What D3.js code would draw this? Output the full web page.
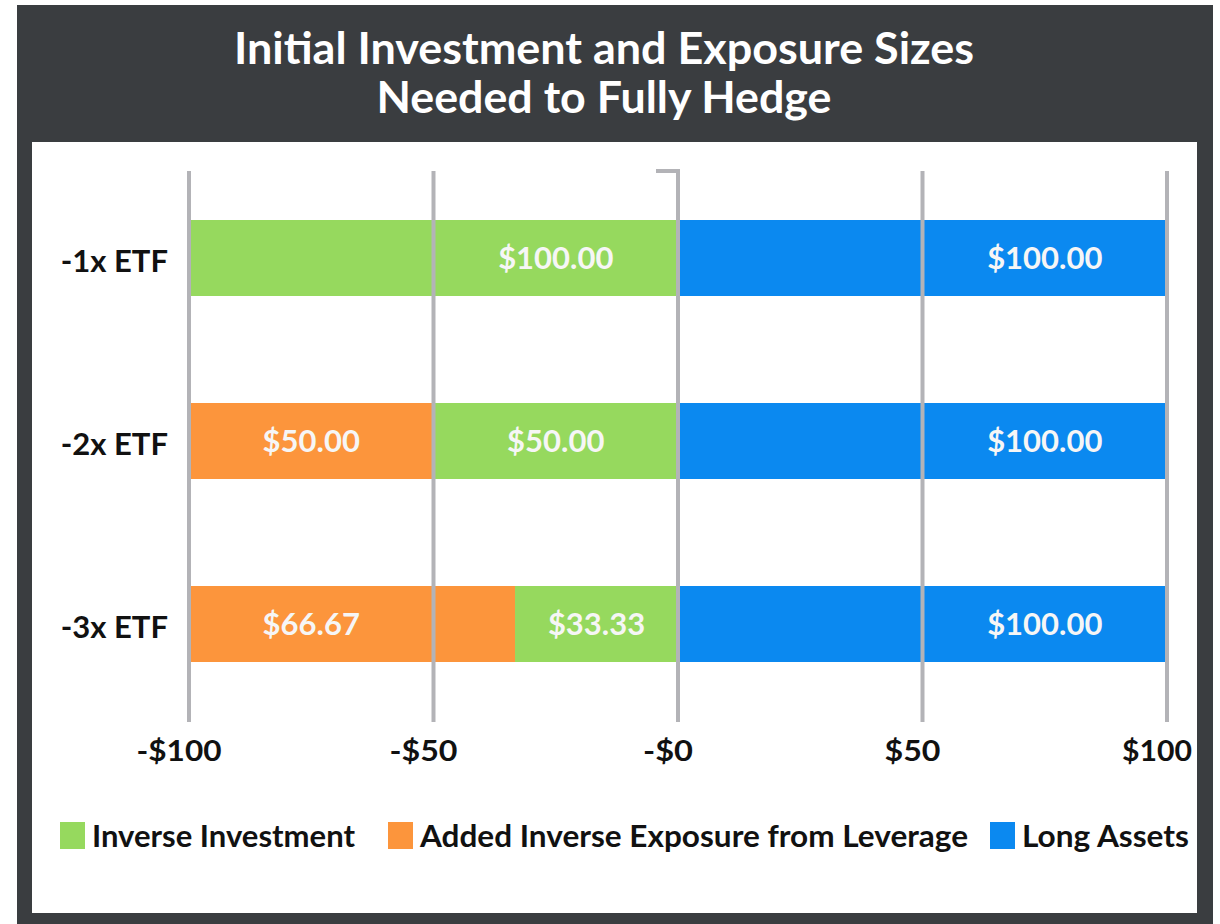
<!DOCTYPE html>
<html>
<head>
<meta charset="utf-8">
<script src="https://cdn.jsdelivr.net/npm/d3@7"></script>
<style>
  html, body { margin: 0; padding: 0; background: #ffffff; }
  svg { display: block; }
  text { font-family: Lato, "Open Sans", sans-serif; font-weight: 700; }
</style>
</head>
<body>
<svg id="chart" width="1220" height="924"></svg>
<script>
// ---------- data ----------
const categories = ["-1x ETF", "-2x ETF", "-3x ETF"];
const inverseInvestment = [100, 50, 33.33];
const addedExposure = [0, 50, 66.67];
const longAssets = [100, 100, 100];
const tickValues = [-100, -50, 0, 50, 100];
const tickLabels = ["-$100", "-$50", "-$0", "$50", "$100"];
const seriesNames = ["Inverse Investment", "Added Inverse Exposure from Leverage", "Long Assets"];
const seriesColors = ["#96d95e", "#fc953c", "#0b89f0"];
const titleLines = ["Initial Investment and Exposure Sizes", "Needed to Fully Hedge"];

// ---------- layout ----------
const svg = d3.select("#chart");
const frame = { x: 17, y: 5, w: 1196, h: 919 };
const panel = { x: 32, y: 142, w: 1165, h: 771 };

svg.append("rect").attr("x", frame.x).attr("y", frame.y).attr("width", frame.w).attr("height", frame.h)
  .attr("fill", "#3a3d40");
svg.append("rect").attr("x", panel.x).attr("y", panel.y).attr("width", panel.w).attr("height", panel.h)
  .attr("fill", "#ffffff");

// title
const titleWidths = [740, 455];
const titleY = [64, 113];
titleLines.forEach((t, i) => {
  svg.append("text")
    .attr("x", 604).attr("y", titleY[i])
    .attr("text-anchor", "middle")
    .attr("fill", "#ffffff")
    .attr("font-size", 43)
    .attr("textLength", titleWidths[i])
    .attr("lengthAdjust", "spacingAndGlyphs")
    .text(t);
});

// scales
const x = d3.scaleLinear().domain([-100, 100]).range([189, 1167]);
const y = d3.scalePoint().domain(categories).range([258, 624]);
const barH = 76;
const gridTop = 171, gridBottom = 722;

// build segments
const segments = [];
categories.forEach((c, i) => {
  const inv = inverseInvestment[i], add = addedExposure[i], lng = longAssets[i];
  if (add > 0) segments.push({ cat: c, s: 1, x0: -(inv + add), x1: -inv, v: add });
  segments.push({ cat: c, s: 0, x0: -inv, x1: 0, v: inv });
  segments.push({ cat: c, s: 2, x0: 0, x1: lng, v: lng });
});

// bars
svg.append("g").selectAll("rect").data(segments).join("rect")
  .attr("x", d => x(d.x0))
  .attr("width", d => x(d.x1) - x(d.x0))
  .attr("y", d => y(d.cat) - barH / 2)
  .attr("height", barH)
  .attr("fill", d => seriesColors[d.s]);

// gridlines (drawn over bars)
const grid = svg.append("g");
grid.selectAll("line").data(tickValues).join("line")
  .attr("x1", d => x(d)).attr("x2", d => x(d))
  .attr("y1", gridTop).attr("y2", gridBottom)
  .attr("stroke", "#b3b3b7").attr("stroke-width", 4);
grid.append("line")
  .attr("x1", x(0) - 22).attr("x2", x(0) + 2)
  .attr("y1", gridTop).attr("y2", gridTop)
  .attr("stroke", "#b3b3b7").attr("stroke-width", 4);

// bar value labels: centred in the tick cell the segment covers most (ties -> rightmost)
function labelPos(d) {
  let best = null, bestOv = -1;
  for (let k = 0; k < tickValues.length - 1; k++) {
    const a = Math.max(d.x0, tickValues[k]), b = Math.min(d.x1, tickValues[k + 1]);
    const ov = b - a;
    if (ov > 0 && ov >= bestOv - 1e-9) { bestOv = ov; best = (a + b) / 2; }
  }
  return x(best);
}
svg.append("g").selectAll("text").data(segments).join("text")
  .attr("x", d => labelPos(d))
  .attr("y", d => y(d.cat) + 11)
  .attr("text-anchor", "middle")
  .attr("fill", "#f6f6f6")
  .attr("font-size", 31)
  .text(d => "$" + d.v.toFixed(2));

// category labels
svg.append("g").selectAll("text").data(categories).join("text")
  .attr("x", 168)
  .attr("y", d => y(d) + 14)
  .attr("text-anchor", "end")
  .attr("fill", "#111111")
  .attr("font-size", 31)
  .text(d => d);

// x tick labels
svg.append("g").selectAll("text").data(tickValues).join("text")
  .attr("x", d => x(d) - 10)
  .attr("y", 761)
  .attr("text-anchor", "middle")
  .attr("fill", "#111111")
  .attr("font-size", 29)
  .attr("textLength", (d, i) => [85, 68, 50, 56, 70][i])
  .attr("lengthAdjust", "spacingAndGlyphs")
  .text((d, i) => tickLabels[i]);

// legend
const legendX = [60, 388, 990];
const legendW = [263, 548, 167];
const lg = svg.append("g");
seriesNames.forEach((n, i) => {
  lg.append("rect").attr("x", legendX[i]).attr("y", 822).attr("width", 25).attr("height", 27)
    .attr("fill", seriesColors[i]);
  lg.append("text")
    .attr("x", legendX[i] + 32).attr("y", 847)
    .attr("fill", "#111111")
    .attr("font-size", 30)
    .attr("textLength", legendW[i])
    .attr("lengthAdjust", "spacingAndGlyphs")
    .text(n);
});
</script>
</body>
</html>
